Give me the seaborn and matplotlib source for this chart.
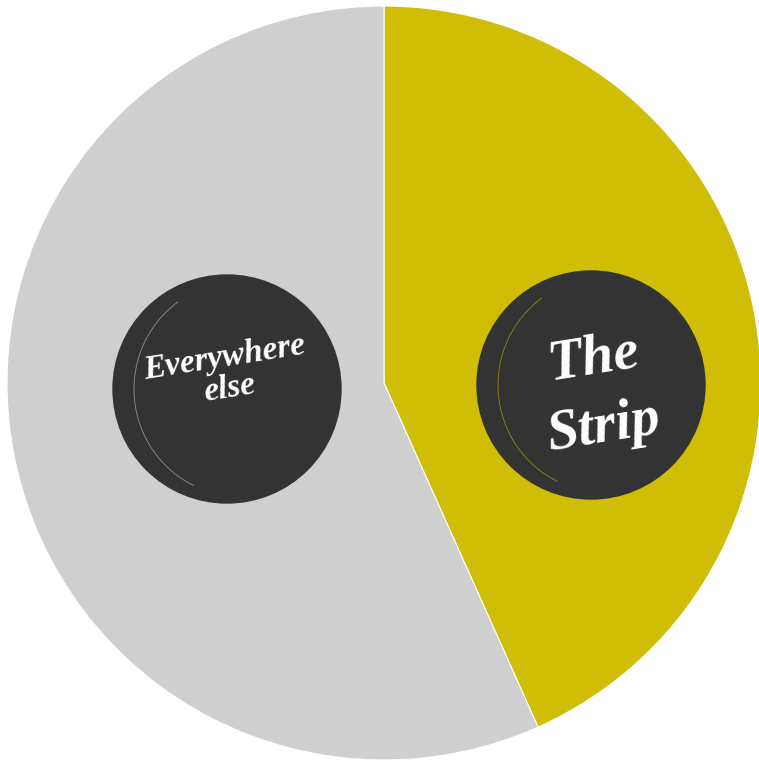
import matplotlib
matplotlib.use("Agg")
import matplotlib.pyplot as plt
import seaborn as sns
from matplotlib.patches import Circle, Arc

# share of visitors by area
labels = ["The\nStrip", "Everywhere\nelse"]
shares = [43.3, 56.7]
colors = ["#cfbd06", "#cfcfcf"]

# badge placement (pixel coords of the canvas), text offset and size
badge_xy = [(591, 385), (227, 389)]
text_off = [(8, -8), (0, 16)]
badge_fs = [41, 24]
badge_ls = [1.45, 1.0]

sns.set_theme(style="white")
plt.rcParams["font.family"] = ["Liberation Serif", "DejaVu Serif"]

W, H = 759, 763
fig = plt.figure(figsize=(W / 100, H / 100), dpi=100)
ax = fig.add_axes([0, 0, 1, 1])

ax.pie(shares, colors=colors, startangle=90, counterclock=False,
       radius=377, center=(384, H - 383),
       wedgeprops={"linewidth": 0.8, "edgecolor": "white"})

# pie() resets limits, so set the canvas afterwards
ax.set_xlim(0, W)
ax.set_ylim(0, H)
ax.set_aspect("equal")
ax.axis("off")

for lab, (x, y), (dx, dy), fs, ls, col in zip(labels, badge_xy, text_off,
                                              badge_fs, badge_ls, colors):
    cy = H - y
    ax.add_patch(Circle((x, cy), 114, color="#333333", zorder=3))
    # faint inner highlight on the left side of the badge
    ax.add_patch(Arc((x + 12, cy), 210, 214, theta1=125, theta2=245,
                     color=col, alpha=0.6, linewidth=0.6, zorder=4))
    ax.text(x + dx, cy + dy, lab, color="white", fontsize=fs,
            fontweight="bold", fontstyle="italic", ha="center", va="center",
            rotation=9, linespacing=ls, zorder=5)

fig.savefig("out.png", dpi=100)
